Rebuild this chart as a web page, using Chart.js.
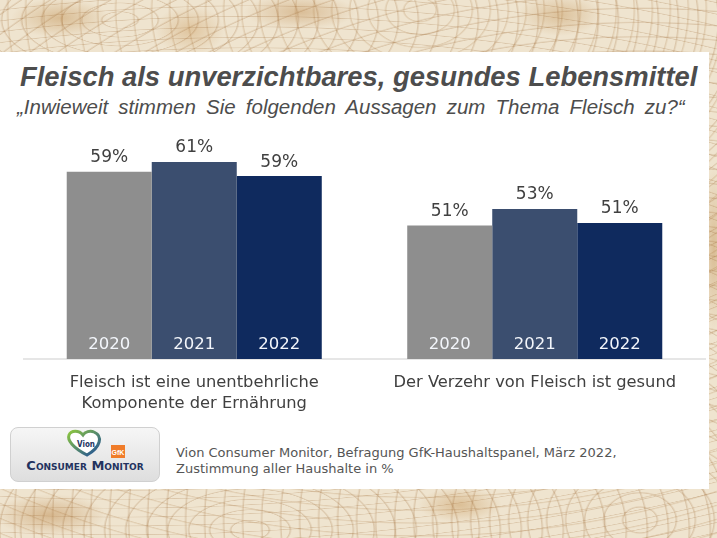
<!DOCTYPE html>
<html>
<head>
<meta charset="utf-8">
<script src="https://cdn.jsdelivr.net/npm/chart.js@4"></script>
<style>
  html, body { margin: 0; padding: 0; }
  body {
    width: 717px; height: 538px; position: relative; overflow: hidden;
    background-color: #efe4cf;
    background-image:
      repeating-radial-gradient(ellipse 90px 40px at 120px 20px, transparent 0 17px, rgba(150,95,40,.22) 18px, transparent 20px),
      repeating-radial-gradient(ellipse 70px 50px at 420px 10px, transparent 0 15px, rgba(160,105,45,.20) 16px, transparent 18px),
      repeating-radial-gradient(ellipse 80px 60px at 640px 520px, transparent 0 16px, rgba(150,95,40,.22) 17px, transparent 19px),
      repeating-radial-gradient(ellipse 100px 50px at 250px 530px, transparent 0 18px, rgba(145,90,35,.22) 19px, transparent 21px),
      radial-gradient(ellipse 70px 28px at 60px 18px, rgba(190,140,75,.45), transparent 70%),
      radial-gradient(ellipse 50px 35px at 190px 30px, rgba(200,150,85,.40), transparent 70%),
      radial-gradient(ellipse 80px 25px at 300px 12px, rgba(185,130,65,.40), transparent 70%),
      radial-gradient(ellipse 60px 30px at 560px 15px, rgba(190,140,75,.40), transparent 70%),
      radial-gradient(ellipse 80px 30px at 50px 515px, rgba(185,130,65,.45), transparent 70%),
      radial-gradient(ellipse 60px 25px at 460px 505px, rgba(195,145,80,.45), transparent 70%),
      radial-gradient(ellipse 20px 120px at 714px 250px, rgba(190,140,75,.45), transparent 70%);
  }
  #panel {
    position: absolute; left: 0; top: 52px; width: 709px; height: 437px;
    background: #ffffff;
  }
  #title {
    position: absolute; left: 20px; top: 61px; margin: 0;
    font: italic bold 27.4px "Liberation Sans", Arial, sans-serif;
    color: #4d4d4d; white-space: nowrap;
  }
  #subtitle {
    position: absolute; left: 17px; top: 95px; margin: 0;
    font: italic 20.5px "Liberation Sans", Arial, sans-serif;
    color: #4d4d4d; white-space: nowrap; word-spacing: 4.5px;
  }
  #chartBox {
    position: absolute; left: 0; top: 110px; width: 709px; height: 310px;
  }
  #logo {
    position: absolute; left: 10px; top: 427px; width: 148px; height: 53px;
    border-radius: 8px; border: 1px solid #d0d0d0;
    background: linear-gradient(#f6f6f6, #dedede);
  }
  #logo .cm {
    position: absolute; left: 0; width: 148px; top: 30px; text-align: center;
    font: bold 13px "DejaVu Sans", sans-serif;
    font-variant: small-caps; color: #23335f;
  }
  #note {
    position: absolute; left: 176px; top: 445px;
    font: 13px "DejaVu Sans", sans-serif;
    color: #555555; line-height: 16px; white-space: nowrap;
  }
</style>
</head>
<body>
<div id="panel"></div>
<div id="title">Fleisch als unverzichtbares, gesundes Lebensmittel</div>
<div id="subtitle">„Inwieweit stimmen Sie folgenden Aussagen zum Thema Fleisch zu?“</div>
<div id="chartBox"><canvas id="bars"></canvas></div>
<div id="logo">
  <svg width="148" height="32" style="position:absolute;left:0;top:0">
    <defs>
      <linearGradient id="hg" x1="0" y1="0" x2="1" y2="1">
        <stop offset="0" stop-color="#8cc63f"/>
        <stop offset="1" stop-color="#1f4e9a"/>
      </linearGradient>
    </defs>
    <path d="M76 27 C62 20 56 12 58 7 C60 2 68 2 72 7 C74 4 79 2 83 4 C92 8 90 19 76 27 Z"
          fill="#ffffff" stroke="url(#hg)" stroke-width="3"/>
    <text x="75" y="19" text-anchor="middle" font-family="DejaVu Sans Condensed, DejaVu Sans" font-size="8" font-weight="bold" fill="#23335f">Vion</text>
    <rect x="100" y="17" width="14" height="13" fill="#f07c2a"/>
    <text x="107" y="27" text-anchor="middle" font-family="Liberation Sans" font-size="7" font-weight="bold" fill="#ffffff">GfK</text>
  </svg>
  <div class="cm">Consumer Monitor</div>
</div>
<div id="note">Vion Consumer Monitor, Befragung GfK-Haushaltspanel, März 2022,<br>Zustimmung aller Haushalte in %</div>

<script>
// categories on the x axis
var categories = [
    ['Fleisch ist eine unentbehrliche', 'Komponente der Ernährung'],
    'Der Verzehr von Fleisch ist gesund'
];
var years = ['2020', '2021', '2022'];

// share of households agreeing, in %
var values2020 = [59.4, 50.6];
var values2021 = [61.0, 53.3];
var values2022 = [58.7, 51.0];

var yearColors = ['#8e8e8e', '#3b4e6f', '#0f2a5e'];

// percent labels above bars and year names at the bottom of each bar
var barText = {
    id: 'barText',
    afterDatasetsDraw: function(chart)
    {
        var ctx = chart.ctx;
        var bottom = chart.chartArea.bottom;
        chart.data.datasets.forEach(function(ds, i)
        {
            chart.getDatasetMeta(i).data.forEach(function(bar, j)
            {
                ctx.save();
                ctx.textAlign = 'center';
                ctx.textBaseline = 'middle';
                ctx.font = '17px "DejaVu Sans"';
                ctx.fillStyle = '#404040';
                ctx.fillText(Math.round(ds.data[j]) + '%', bar.x, bar.y - 14);
                ctx.font = '16.5px "DejaVu Sans"';
                ctx.fillStyle = '#f3f6fb';
                ctx.fillText(ds.label, bar.x, bottom - 14);
                ctx.restore();
            });
        });
    }
};

var bar_chart = document.getElementById('bars').getContext('2d');
var render_bar_chart = new Chart(bar_chart,
{
    type: 'bar',
    data: {
        labels: categories,
        datasets: [
            { label: years[0], data: values2020, backgroundColor: yearColors[0] },
            { label: years[1], data: values2021, backgroundColor: yearColors[1] },
            { label: years[2], data: values2022, backgroundColor: yearColors[2] }
        ]
    },
    options: {
        responsive: true,
        maintainAspectRatio: false,
        animation: false,
        categoryPercentage: 0.749,
        barPercentage: 1.0,
        layout: {
            padding: { left: 24, right: 4, top: 10, bottom: 0 }
        },
        plugins: {
            legend: { display: false },
            tooltip: { enabled: false },
            title: { display: false }
        },
        scales: {
            x: {
                grid: { display: false, drawTicks: false },
                border: { display: true, color: '#e6e6e6', width: 2 },
                ticks: {
                    color: '#404040',
                    padding: 13,
                    font: { family: 'DejaVu Sans', size: 16.3, lineHeight: 1.3 }
                },
                afterFit: function(scale) { scale.height = 61; }
            },
            y: {
                display: false,
                min: 28.7,
                max: 67.9
            }
        }
    },
    plugins: [barText]
});
</script>
</body>
</html>
